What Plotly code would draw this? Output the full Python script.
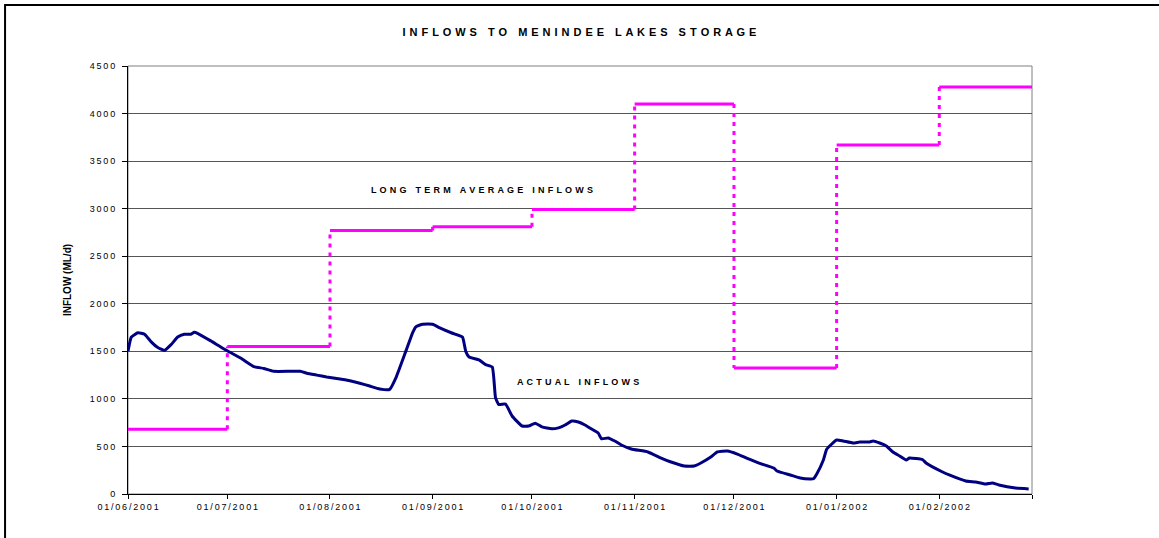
import plotly.graph_objects as go

# long term average inflow for each month (ML/d)
month_starts = ["2001-06-01", "2001-07-01", "2001-08-01", "2001-09-01", "2001-10-01",
                "2001-11-01", "2001-12-01", "2002-01-01", "2002-02-01"]
period_end = "2002-03-01"
long_term = [680, 1550, 2770, 2810, 2990, 4100, 1325, 3670, 4280]

# actual inflows
actual_dates = [
    "2001-06-01", "2001-06-02", "2001-06-04", "2001-06-06", "2001-06-08", "2001-06-10",
    "2001-06-12", "2001-06-14", "2001-06-16", "2001-06-18", "2001-06-20", "2001-06-21",
    "2001-06-22", "2001-06-26", "2001-06-30", "2001-07-05", "2001-07-09", "2001-07-12",
    "2001-07-15", "2001-07-23", "2001-07-25", "2001-07-28", "2001-07-31", "2001-08-04",
    "2001-08-07", "2001-08-10", "2001-08-13", "2001-08-16", "2001-08-19", "2001-08-21",
    "2001-08-24", "2001-08-26", "2001-08-27", "2001-08-29", "2001-09-01", "2001-09-03",
    "2001-09-07", "2001-09-10", "2001-09-11", "2001-09-12", "2001-09-15", "2001-09-17",
    "2001-09-19", "2001-09-20", "2001-09-21", "2001-09-23", "2001-09-25", "2001-09-28",
    "2001-09-30", "2001-10-02", "2001-10-04", "2001-10-07", "2001-10-09", "2001-10-11",
    "2001-10-13", "2001-10-15", "2001-10-17", "2001-10-19", "2001-10-21", "2001-10-22",
    "2001-10-24", "2001-10-26", "2001-10-28", "2001-10-31", "2001-11-05", "2001-11-09",
    "2001-11-12", "2001-11-16", "2001-11-19", "2001-11-21", "2001-11-24", "2001-11-26",
    "2001-11-29", "2001-12-02", "2001-12-05", "2001-12-09", "2001-12-13", "2001-12-14",
    "2001-12-18", "2001-12-21", "2001-12-24", "2001-12-25", "2001-12-26", "2001-12-28",
    "2001-12-29", "2002-01-01", "2002-01-03", "2002-01-06", "2002-01-08", "2002-01-11",
    "2002-01-12", "2002-01-14", "2002-01-16", "2002-01-18", "2002-01-20", "2002-01-22",
    "2002-01-23", "2002-01-27", "2002-01-28", "2002-02-02", "2002-02-04", "2002-02-09",
    "2002-02-12", "2002-02-15", "2002-02-17", "2002-02-19", "2002-02-24", "2002-02-28",
]
actual_flow = [
    1500, 1650, 1695, 1680, 1600, 1540,
    1510, 1570, 1650, 1680, 1680, 1700,
    1690, 1610, 1525, 1430, 1340, 1320,
    1290, 1290, 1270, 1250, 1230, 1210,
    1190, 1165, 1135, 1105, 1100, 1230,
    1510, 1700, 1760, 1785, 1785, 1750,
    1690, 1650, 1500, 1440, 1410, 1360,
    1335, 1010, 940, 946, 820, 715,
    715, 745, 705, 685, 695, 725,
    767, 757, 725, 683, 641, 580,
    589, 557, 515, 473, 442, 378,
    336, 294, 294, 326, 389, 442,
    452, 420, 375, 320, 273, 242,
    200, 168, 158, 160, 210, 357,
    470, 568, 557, 536, 547, 547,
    557, 536, 505, 442, 400, 357,
    378, 360, 326, 231, 200, 137,
    126, 105, 116, 95, 63, 53,
]

tick_labels = ["01/06/2001", "01/07/2001", "01/08/2001", "01/09/2001", "01/10/2001",
               "01/11/2001", "01/12/2001", "01/01/2002", "01/02/2002", ""]


def spaced(text, sep="\u2009"):
    return sep.join(text)


wide = " \u200a"

ends = month_starts[1:] + [period_end]
flat_x, flat_y, step_x, step_y = [], [], [], []
for i, v in enumerate(long_term):
    flat_x += [month_starts[i], ends[i], None]
    flat_y += [v, v, None]
    if i + 1 < len(long_term):
        step_x += [ends[i], ends[i], None]
        step_y += [v, long_term[i + 1], None]

magenta = "#FF00FF"
fig = go.Figure()
fig.add_trace(go.Scatter(x=flat_x, y=flat_y, mode="lines", line=dict(color=magenta, width=3),
                         showlegend=False, hoverinfo="skip"))
fig.add_trace(go.Scatter(x=step_x, y=step_y, mode="lines",
                         line=dict(color=magenta, width=3, dash="4px,5px"),
                         showlegend=False, hoverinfo="skip"))
fig.add_trace(go.Scatter(x=actual_dates, y=actual_flow, mode="lines",
                         line=dict(color="#000080", width=3, shape="spline", smoothing=0.4),
                         showlegend=False))

fig.add_annotation(x="2001-09-16", y=3196, text="<b>" + spaced("LONG TERM AVERAGE INFLOWS", wide) + "</b>",
                   showarrow=False, font=dict(size=9, color="black"))
fig.add_annotation(x="2001-10-15", y=1178, text="<b>" + spaced("ACTUAL INFLOWS", wide) + "</b>",
                   showarrow=False, font=dict(size=9, color="black"))

# outer frame of the chart object
fig.add_shape(type="rect", xref="paper", yref="paper", x0=-0.136, x1=1.3, y0=-0.3, y1=1.1425,
              line=dict(color="black", width=2), layer="below")
# plot area border
fig.add_shape(type="rect", xref="paper", yref="paper", x0=0, x1=1, y0=0, y1=1,
              line=dict(color="#808080", width=1), layer="below")

fig.update_layout(
    width=1159, height=538,
    margin=dict(l=128, r=127, t=66, b=44),
    paper_bgcolor="white", plot_bgcolor="white",
    font=dict(family="Liberation Sans, Arial, sans-serif", color="black"),
    title=dict(text="<b>" + spaced("INFLOWS TO MENINDEE LAKES STORAGE", wide) + "</b>",
               x=0.5, xanchor="center", y=0.9405, yanchor="middle", font=dict(size=11)),
    xaxis=dict(type="date", range=[month_starts[0], period_end],
               tickvals=month_starts + [period_end], ticktext=[spaced(t) for t in tick_labels],
               ticks="outside", ticklen=4, tickcolor="black", showline=True, linecolor="black",
               linewidth=1, showgrid=False, zeroline=False, tickfont=dict(size=9)),
    yaxis=dict(range=[0, 4500], ticks="outside", ticklen=5, tickcolor="black",
               showline=True, linecolor="black", linewidth=1, showgrid=True, gridcolor="#555555",
               gridwidth=1, zeroline=False, tickfont=dict(size=9), ticklabelstandoff=5,
               tickvals=list(range(0, 4501, 500)),
               ticktext=[spaced(str(v)) for v in range(0, 4501, 500)],
               title=dict(text="<b>INFLOW (ML/d)</b>", font=dict(size=10), standoff=16)),
)

fig.write_html("out.html", config={"displayModeBar": False},
               post_script="document.body.style.margin='0';")
